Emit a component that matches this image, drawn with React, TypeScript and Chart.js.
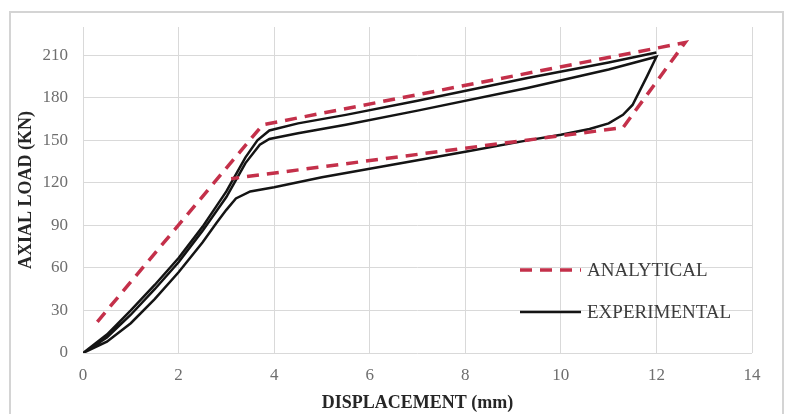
import React, { useEffect, useRef } from "react";
import { Chart, registerables } from "chart.js";

Chart.register(...registerables);

// ---- Data ----
const analyticalLabel = "ANALYTICAL";
const experimentalLabel = "EXPERIMENTAL";

const analyticalX = [0.3, 3.76, 12.6, 11.3, 3.1];
const analyticalY = [22, 161, 219, 159, 123];

const experimentalX = [
  0, 0.5, 1.0, 1.5, 2.0, 2.5, 3.0, 3.4, 3.7, 3.9, 4.5, 5.5, 7.0, 9.3, 11.0, 12.0,
  11.8, 11.5, 11.3, 11.0, 10.6, 10.0, 9.3, 8.0, 6.0, 5.0, 4.0, 3.5, 3.2, 3.0, 2.8, 2.5, 2.0, 1.5, 1.0, 0.5, 0,
  0.5, 1.0, 1.5, 2.0, 2.5, 3.0, 3.4, 3.65, 3.9, 4.5, 5.5, 7.0, 9.3, 11.0, 12.0,
];
const experimentalY = [
  0, 11, 27, 45, 64, 86, 110, 134, 147, 151, 155, 161, 171, 187, 200, 209,
  195, 175, 168, 162, 158, 154, 150, 142, 130, 124, 117, 114, 109, 101, 92, 78, 57, 38, 21, 8, 0,
  13, 30, 48, 67, 89, 114, 138, 150, 157, 162, 168, 178, 194, 205, 212,
];

const xTitle = "DISPLACEMENT (mm)";
const yTitle = "AXIAL LOAD (KN)";
const xMin = 0, xMax = 14, xStep = 2;
const yMin = 0, yMax = 230, yStep = 30, yLastTick = 210;

const RED = "#c4304a";
const BLACK = "#141414";
const GRID = "#d9d9d9";
const TICK = "#6e6e6e";
const SERIF = "'Liberation Serif', 'Times New Roman', serif";

const toPoints = (xs: number[], ys: number[]) => xs.map((x, i) => ({ x, y: ys[i] }));

const framePlugin = {
  id: "frame",
  beforeDraw(chart: any) {
    const ctx = chart.ctx;
    ctx.save();
    ctx.fillStyle = "#ffffff";
    ctx.fillRect(0, 0, chart.width, chart.height);
    ctx.strokeStyle = "#d4d4d4";
    ctx.lineWidth = 2;
    ctx.strokeRect(10, 12, 773, 420);
    ctx.restore();
  },
};

const legendPlugin = {
  id: "insideLegend",
  afterDraw(chart: any) {
    const ctx = chart.ctx;
    const items = chart.data.datasets.map((d: any) => ({
      label: d.label,
      color: d.borderColor,
      dash: d.borderDash || [],
      width: d.borderWidth,
    }));
    const x0 = 520, x1 = 581, tx = 587;
    const ys = [270, 312];
    ctx.save();
    items.forEach((it: any, i: number) => {
      const y = ys[i];
      ctx.beginPath();
      ctx.setLineDash(it.dash);
      ctx.strokeStyle = it.color;
      ctx.lineWidth = it.width;
      ctx.moveTo(x0, y);
      ctx.lineTo(x1, y);
      ctx.stroke();
      ctx.setLineDash([]);
      ctx.fillStyle = "#3c3c3c";
      ctx.font = `19px ${SERIF}`;
      ctx.textBaseline = "middle";
      ctx.textAlign = "left";
      ctx.fillText(it.label, tx, y + 1);
    });
    ctx.restore();
  },
};

export default function App() {
  const ref = useRef<HTMLCanvasElement | null>(null);

  useEffect(() => {
    document.body.style.margin = "0";
    const canvas = ref.current;
    if (!canvas) return;
    const chart = new Chart(canvas, {
      type: "line",
      data: {
        datasets: [
          {
            label: analyticalLabel,
            data: toPoints(analyticalX, analyticalY),
            borderColor: RED,
            borderWidth: 3.5,
            borderDash: [12, 8],
            pointRadius: 0,
            tension: 0,
            fill: false,
          },
          {
            label: experimentalLabel,
            data: toPoints(experimentalX, experimentalY),
            borderColor: BLACK,
            borderWidth: 2.5,
            pointRadius: 0,
            tension: 0,
            fill: false,
          },
        ],
      },
      options: {
        responsive: false,
        animation: false,
        devicePixelRatio: 1,
        layout: { padding: { left: 0, top: 27, right: 36, bottom: 0 } },
        plugins: {
          legend: { display: false },
          tooltip: { enabled: false },
        },
        scales: {
          x: {
            type: "linear",
            min: xMin,
            max: xMax,
            border: { display: false },
            grid: { color: GRID, lineWidth: 1, drawTicks: false },
            ticks: {
              stepSize: xStep,
              padding: 12,
              color: TICK,
              font: { family: SERIF, size: 17 },
            },
            title: {
              display: true,
              text: xTitle,
              color: "#262626",
              font: { family: SERIF, size: 18, weight: "bold" },
              padding: { top: 0, bottom: 0 },
            },
            afterFit(scale: any) {
              scale.height = 61;
            },
          },
          y: {
            type: "linear",
            min: yMin,
            max: yMax,
            border: { display: false },
            grid: { color: GRID, lineWidth: 1, drawTicks: false },
            ticks: {
              stepSize: yStep,
              padding: 15,
              color: TICK,
              font: { family: SERIF, size: 17 },
            },
            afterBuildTicks(scale: any) {
              scale.ticks = scale.ticks.filter((t: any) => t.value <= yLastTick);
            },
            title: {
              display: true,
              text: yTitle,
              color: "#262626",
              font: { family: SERIF, size: 18, weight: "bold" },
              padding: { top: 16, bottom: 0 },
            },
            afterFit(scale: any) {
              scale.width = 83;
            },
          },
        },
      },
      plugins: [framePlugin, legendPlugin],
    } as any);
    return () => chart.destroy();
  }, []);

  return (
    <div style={{ width: 788, height: 414 }}>
      <canvas ref={ref} width={788} height={414} style={{ display: "block", width: 788, height: 414 }} />
    </div>
  );
}
